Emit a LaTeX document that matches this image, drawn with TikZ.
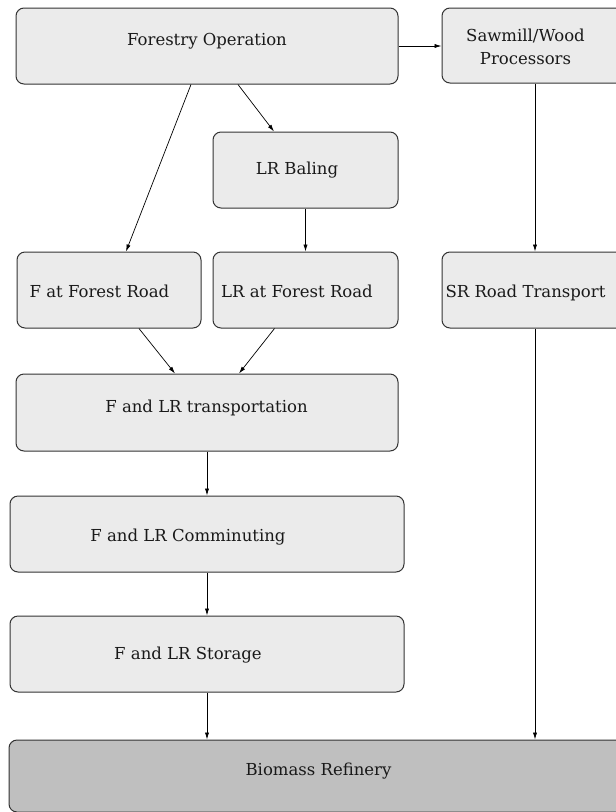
\documentclass[tikz,border=0pt]{standalone}
\usepackage{fontspec}
\setmainfont{DejaVu Serif}
\usetikzlibrary{arrows.meta}
\definecolor{boxfill}{HTML}{EBEBEB}
\definecolor{sinkfill}{HTML}{BFBFBF}
\definecolor{boxline}{HTML}{333333}
\tikzset{
  stage/.style={draw=boxline, line width=1pt, fill=boxfill, rounded corners=8pt,
                rectangle, inner sep=0pt},
  sink/.style={stage, fill=sinkfill},
  lbl/.style={anchor=base, inner sep=0pt, font=\fontsize{16.5}{20}\selectfont, text=black!90},
  flow/.style={draw=black, line width=0.7pt, -{Latex[length=7pt,width=4.2pt]}}
}
\begin{document}
\begin{tikzpicture}[x=1pt, y=-1pt]
\useasboundingbox (0,0) rectangle (616,812);
\clip (0,0) rectangle (616,812);

% process boxes
\node[stage, minimum width=382pt, minimum height=76pt] (fo)   at (207,46)    {};
\node[stage, minimum width=186pt, minimum height=75pt] (sm)   at (535,45.5)  {};
\node[stage, minimum width=185pt, minimum height=76pt] (lrb)  at (305.5,170) {};
\node[stage, minimum width=184pt, minimum height=76pt] (far)  at (109,290)   {};
\node[stage, minimum width=185pt, minimum height=76pt] (lrfr) at (305.5,290) {};
\node[stage, minimum width=186pt, minimum height=76pt] (srt)  at (535,290)   {};
\node[stage, minimum width=382pt, minimum height=77pt] (tr)   at (207,412.5) {};
\node[stage, minimum width=394pt, minimum height=76pt] (com)  at (207,534)   {};
\node[stage, minimum width=394pt, minimum height=76pt] (sto)  at (207,654)   {};
\node[sink,  minimum width=619pt, minimum height=72pt] (bio)  at (318.5,776) {};

% labels
\node[lbl] (fo-t)   at (207,45)    {Forestry Operation};
\node[lbl] (sm-t1)  at (525.5,41)  {Sawmill/Wood};
\node[lbl] (sm-t2)  at (525.5,64)  {Processors};
\node[lbl] (lrb-t)  at (297,174)   {LR Baling};
\node[lbl] (far-t)  at (99.5,297)  {F at Forest Road};
\node[lbl] (lrfr-t) at (297,297)   {LR at Forest Road};
\node[lbl] (srt-t)  at (525.5,297) {SR Road Transport};
\node[lbl] (tr-t)   at (206.5,412) {F and LR transportation};
\node[lbl] (com-t)  at (188,541)   {F and LR Comminuting};
\node[lbl] (sto-t)  at (188,659)   {F and LR Storage};
\node[lbl] (bio-t)  at (318.5,775) {Biomass Refinery};

% material flows
\draw[flow] (fo.east) -- (fo.east -| sm.west);
\draw[flow] ([xshift=-16pt]fo.south) -- ([xshift=17pt]far.north);
\draw[flow] ([xshift=31pt]fo.south) -- ([xshift=-31.5pt]lrb.north);
\draw[flow] (lrb.south) -- (lrfr.north);
\draw[flow] (sm.south) -- (srt.north);
\draw[flow] ([xshift=30pt]far.south) -- ([xshift=-32pt]tr.north);
\draw[flow] ([xshift=-31pt]lrfr.south) -- ([xshift=32pt]tr.north);
\draw[flow] (tr.south) -- (com.north);
\draw[flow] (com.south) -- (sto.north);
\draw[flow] (sto.south) -- (sto.south |- bio.north);
\draw[flow] (srt.south) -- (srt.south |- bio.north);
\end{tikzpicture}
\end{document}
